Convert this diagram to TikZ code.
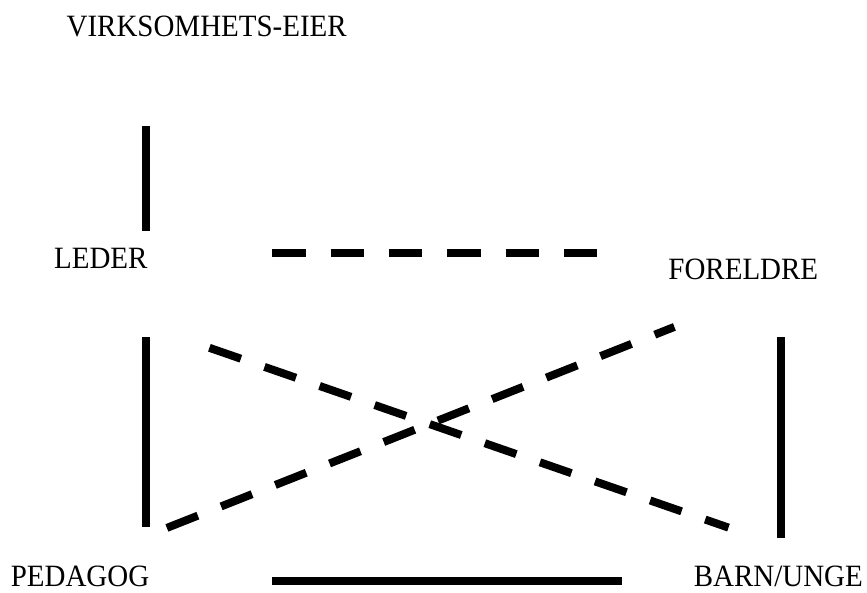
\documentclass[tikz,border=0pt]{standalone}
\usepackage{fontspec}
\setmainfont{Liberation Serif}[FakeStretch=0.935]
\begin{document}
\begin{tikzpicture}[x=1pt,y=-1pt,
  lbl/.style={font=\fontsize{31}{36}\selectfont, inner sep=0pt, anchor=base},
  solidline/.style={line width=8pt},
  dashline/.style={line width=8pt, dash pattern=on 33.3pt off 25pt}]
\useasboundingbox (0,0) rectangle (867,592);
% labels
\node[lbl] (eier) at (206.7,36.7) {VIRKSOMHETS-EIER};
\node[lbl] (leder) at (100.8,268.3) {LEDER};
\node[lbl] (foreldre) at (743.3,279.3) {FORELDRE};
\node[lbl] (pedagog) at (80,586) {PEDAGOG};
\node[lbl] (barn) at (778.3,586) {BARN/UNGE};
% connector end points
\coordinate (eierS) at (145.5,126);
\coordinate (lederN) at (145.5,230.7);
\coordinate (lederE) at (272.3,252.5);
\coordinate (foreldreW) at (596.7,252.5);
\coordinate (lederS) at (145.5,337.3);
\coordinate (pedagogN) at (145.5,527.3);
\coordinate (foreldreS) at (780.8,337.3);
\coordinate (barnN) at (780.8,538.3);
\coordinate (pedagogE) at (272.3,581.3);
\coordinate (barnW) at (621.7,581.3);
\coordinate (lederSE) at (209.4,347.8);
\coordinate (barnNW) at (728.5,527.6);
\coordinate (pedagogNE) at (166.9,527.9);
\coordinate (foreldreSW) at (674.4,326.9);
% connectors
\draw[solidline] (eierS) -- (lederN);
\draw[dashline] (lederE) -- (foreldreW);
\draw[solidline] (lederS) -- (pedagogN);
\draw[solidline] (foreldreS) -- (barnN);
\draw[solidline] (pedagogE) -- (barnW);
\draw[dashline] (lederSE) -- (barnNW);
\draw[dashline] (pedagogNE) -- (foreldreSW);
\end{tikzpicture}
\end{document}
